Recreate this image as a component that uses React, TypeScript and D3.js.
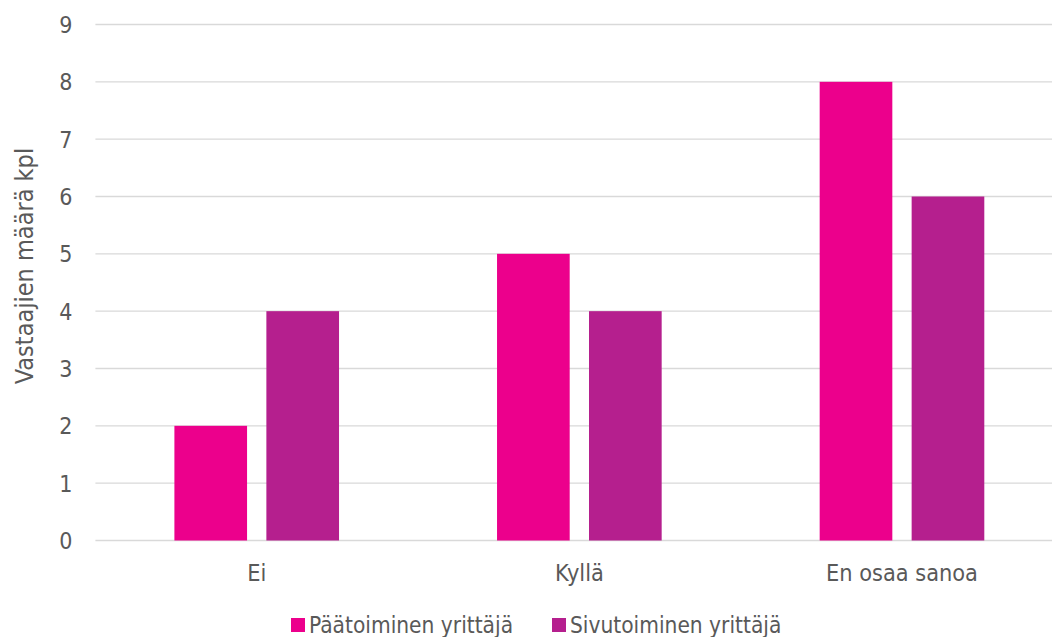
import React from "react";
import * as d3 from "d3";

const categories = ["Ei", "Kyllä", "En osaa sanoa"];
const seriesNames = ["Päätoiminen yrittäjä", "Sivutoiminen yrittäjä"];
const paatoiminen = [2, 5, 8];
const sivutoiminen = [4, 4, 6];
const yTicks = [0, 1, 2, 3, 4, 5, 6, 7, 8, 9];
const colors = ["#EC008C", "#B51F8E"];

const W = 1052;
const H = 637;
const FONT = "'DejaVu Sans Condensed', 'DejaVu Sans', Verdana, sans-serif";
const TEXT = "#595959";

export default function App() {
  const series = [paatoiminen, sivutoiminen];
  const x = d3.scaleBand<string>().domain(categories).range([95.4, 1063.3]).paddingInner(0).paddingOuter(0);
  const y = d3.scaleLinear().domain([0, 9]).range([540.5, 24.5]);
  const inner = d3
    .scaleBand<number>()
    .domain([0, 1])
    .range([79, x.bandwidth() - 79])
    .paddingInner(0.21);

  return (
    <svg width={W} height={H} style={{ position: "absolute", left: 0, top: 0, background: "#fff" }}>
      {yTicks.map((t) => (
        <g key={t}>
          <line x1={95.4} x2={1063} y1={y(t)} y2={y(t)} stroke="#d9d9d9" strokeWidth={1.3} />
          <text x={72.5} y={y(t) + 8.5} textAnchor="end" fontFamily={FONT} fontSize={23} fill={TEXT}>
            {t}
          </text>
        </g>
      ))}
      {categories.map((c, ci) => (
        <g key={c}>
          {series.map((s, si) => (
            <rect
              key={si}
              x={(x(c) as number) + (inner(si) as number)}
              y={y(s[ci])}
              width={inner.bandwidth()}
              height={y(0) - y(s[ci])}
              fill={colors[si]}
            />
          ))}
          <text
            x={(x(c) as number) + x.bandwidth() / 2}
            y={581}
            textAnchor="middle"
            fontFamily={FONT}
            fontSize={23.3}
            fill={TEXT}
          >
            {c}
          </text>
        </g>
      ))}
      <text
        transform={`translate(33,266) rotate(-90)`}
        textAnchor="middle"
        fontFamily={FONT}
        fontSize={25}
        fill={TEXT}
      >
        Vastaajien määrä kpl
      </text>
      {seriesNames.map((n, i) => {
        const lx = [291, 552][i];
        return (
          <g key={n}>
            <rect x={lx} y={618} width={14} height={14} fill={colors[i]} />
            <text x={lx + 18} y={633} fontFamily={FONT} fontSize={22.5} fill={TEXT}>
              {n}
            </text>
          </g>
        );
      })}
    </svg>
  );
}
